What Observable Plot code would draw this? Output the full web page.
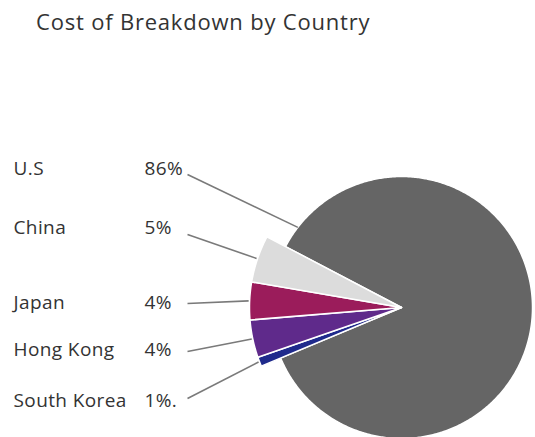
<!DOCTYPE html>
<html>
<head>
<meta charset="utf-8">
<script src="https://cdn.jsdelivr.net/npm/d3@7"></script>
<script src="https://cdn.jsdelivr.net/npm/@observablehq/plot@0.6"></script>
<style>
  html, body { margin: 0; padding: 0; background: #fff; }
  #title { font-family: "Open Sans", sans-serif; font-size: 22px; line-height: 22px; letter-spacing: 0.8px; color: #333;
           padding: 10px 0 0 36px; height: 34px; box-sizing: content-box; }
  #chart svg { display: block; }
</style>
</head>
<body>
<div id="title">Cost of Breakdown by Country</div>
<div id="chart"></div>
<script>
// ---- data ----
const categories = ["U.S", "China", "Japan", "Hong Kong", "South Korea"];
const shares = [86, 5, 4, 4, 1];
const pctLabels = ["86%", "5%", "4%", "4%", "1%."];
const colors = ["#656565", "#dcdcdc", "#9b1c5b", "#5f2a8b", "#1f2a8c"];

// ---- layout (pixels) ----
const W = 535, H = 437, titleH = 44;
const cx = 401, cy = 307;          // pie centre
const rMain = 131, rSmall = 152;   // radius of big slice / small slices
const gapCenterDeg = 272.5;        // direction of the small-slice group (d3 angle, clockwise from 12 o'clock)
const rowY = [168, 227, 302, 349, 400];
const nameX = 13, pctX = 144, leaderX = 187;
const leaderDy = [6, 7, 1, 2, -2];
const usAnchorDeg = 10;            // leader anchor on the big slice, degrees before its start (upper-left rim)

const rows = categories.map((c, i) => ({cat: c, share: shares[i], pct: pctLabels[i], i}));
// clockwise order: big slice, then the small ones bottom-to-top
const pieOrder = [0, 4, 3, 2, 1].map(i => rows[i]);
const total = d3.sum(shares);
const smallSpan = (total - shares[0]) / total * 2 * Math.PI;
const g = gapCenterDeg * Math.PI / 180;
const arcs = d3.pie().sort(null).value(d => d.share)
  .startAngle(g + smallSpan / 2 - 2 * Math.PI).endAngle(g + smallSpan / 2)(pieOrder);

const pt = (a, r) => ({x: cx + r * Math.sin(a), y: cy - r * Math.cos(a)});
const polys = [];
const leaders = [];
for (const a of arcs) {
  const d = a.data;
  const r = d.i === 0 ? rMain : rSmall;
  polys.push({cat: d.cat, ...pt(0, 0)});
  const n = Math.max(4, Math.ceil((a.endAngle - a.startAngle) / 0.01));
  for (let k = 0; k <= n; k++) {
    polys.push({cat: d.cat, ...pt(a.startAngle + (a.endAngle - a.startAngle) * k / n, r)});
  }
  const end = d.i === 0
    ? pt(a.startAngle + usAnchorDeg * Math.PI / 180, rMain)
    : pt((a.startAngle + a.endAngle) / 2, rSmall + 1);
  leaders.push({cat: d.cat, x1: leaderX, y1: rowY[d.i] + leaderDy[d.i], x2: end.x, y2: end.y});
}

const labels = rows.map(d => ({...d, y: rowY[d.i], nx: nameX, px: pctX}));

const chart = Plot.plot({
  width: W, height: H - titleH,
  margin: 0,
  x: {domain: [0, W], range: [0, W], axis: null},
  y: {domain: [titleH, H], range: [0, H - titleH], axis: null},
  color: {domain: categories, range: colors},
  style: {background: "transparent", letterSpacing: "0.4px"},
  marks: [
    Plot.line(polys, {x: "x", y: "y", z: "cat", fill: "cat", stroke: "white", strokeWidth: 1.5, curve: "linear-closed"}),
    Plot.link(leaders, {x1: "x1", y1: "y1", x2: "x2", y2: "y2", stroke: "#7a7a7a", strokeWidth: 1.6}),
    Plot.text(labels, {x: "nx", y: "y", text: "cat", textAnchor: "start", fontSize: 19, fill: "#333", fontFamily: "Open Sans"}),
    Plot.text(labels, {x: "px", y: "y", text: "pct", textAnchor: "start", fontSize: 19, fill: "#333", fontFamily: "Open Sans"})
  ]
});
document.getElementById("chart").appendChild(chart);
</script>
</body>
</html>
